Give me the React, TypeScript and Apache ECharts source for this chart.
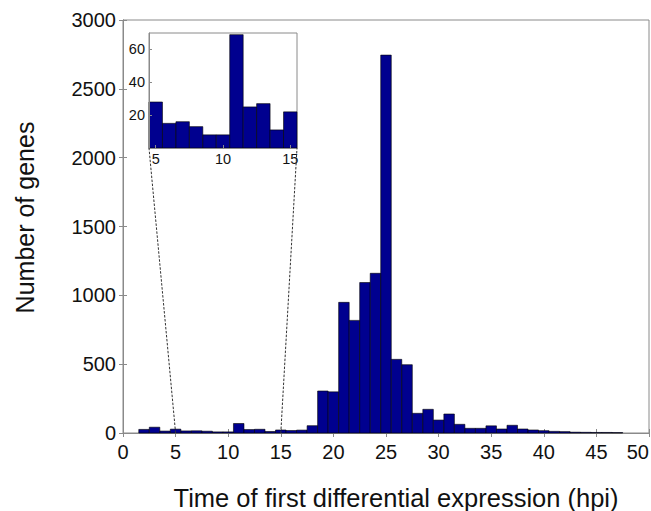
import React, { useEffect, useRef } from "react";
import * as echarts from "echarts";

// Histogram bins (hpi, bin centres) and number of genes per bin
const bins = [1, 2, 3, 4, 5, 6, 7, 8, 9, 10, 11, 12, 13, 14, 15, 16, 17, 18, 19, 20, 21, 22, 23, 24, 25, 26, 27, 28, 29, 30, 31, 32, 33, 34, 35, 36, 37, 38, 39, 40, 41, 42, 43, 44, 45, 46, 47, 48];
const counts = [0, 26, 42, 14, 28, 15, 16, 13, 8, 8, 69, 25, 27, 11, 22, 18, 21, 53, 305, 299, 949, 818, 1093, 1160, 2745, 535, 496, 143, 172, 94, 138, 63, 34, 34, 52, 29, 56, 29, 22, 17, 12, 10, 6, 5, 4, 4, 3, 0];

// Inset zoom range (hpi)
const insetFrom = 5;
const insetTo = 15;
const insetXTicks = [5, 10, 15];
const insetYTicks = [20, 40, 60];

const mainData = bins.map((b, i) => [b, counts[i]]);
const insetData = mainData.filter((d) => d[0] >= insetFrom && d[0] <= insetTo);

const BAR_FILL = "#00008F";
const FRAME = "#8a8a8a";
const TEXT = "#111";
const FONT = "Liberation Sans";

function renderHist(params: any, api: any) {
  const x = api.value(0);
  const y = api.value(1);
  if (!y) return null;
  const p0 = api.coord([x - 0.5, y]);
  const p1 = api.coord([x + 0.5, 0]);
  const cs = params.coordSys;
  const shape = echarts.graphic.clipRectByRect(
    { x: p0[0], y: p0[1], width: p1[0] - p0[0], height: p1[1] - p0[1] },
    { x: cs.x, y: cs.y, width: cs.width, height: cs.height }
  );
  if (!shape) return null;
  return {
    type: "rect",
    shape,
    style: { fill: BAR_FILL, stroke: "#000", lineWidth: 0.6 },
  };
}

const plain = (v: number) => String(v);

export default function App() {
  const ref = useRef<HTMLDivElement>(null);
  useEffect(() => {
    if (!ref.current) return;
    const chart = echarts.init(ref.current, null, { renderer: "svg" });
    const tickStyle = { show: true, inside: true, length: 4, lineStyle: { color: FRAME } };
    const option: any = {
      animation: false,
      backgroundColor: "#fff",
      textStyle: { fontFamily: FONT },
      grid: [
        { left: 123, top: 20, right: 2, bottom: 78, show: true, borderColor: FRAME, borderWidth: 1, backgroundColor: "#fff", z: 0, outerBoundsMode: "none", containLabel: false },
        { left: 149, top: 33, width: 148, height: 115, show: true, borderColor: FRAME, borderWidth: 1, backgroundColor: "#fff", z: 5, outerBoundsMode: "none", containLabel: false },
      ],
      xAxis: [
        {
          type: "value", gridIndex: 0, min: 0, max: 50, interval: 5,
          name: "Time of first differential expression (hpi)", nameLocation: "middle", nameGap: 52,
          nameTextStyle: { fontSize: 25.5, color: TEXT, fontFamily: FONT, padding: [0, 0, 0, 20] },
          axisLine: { lineStyle: { color: FRAME } }, axisTick: tickStyle,
          axisLabel: { fontSize: 20, color: TEXT, margin: 9, fontFamily: FONT, formatter: plain, alignMaxLabel: "right" },
          splitLine: { show: false },
        },
        {
          type: "value", gridIndex: 0, position: "top", min: 0, max: 50, interval: 5,
          axisLine: { lineStyle: { color: FRAME } }, axisTick: tickStyle,
          axisLabel: { show: false }, splitLine: { show: false },
        },
        {
          type: "value", gridIndex: 1, min: insetFrom - 0.5, max: insetTo + 0.5,
          axisLine: { lineStyle: { color: FRAME } },
          axisTick: { ...tickStyle, length: 3, customValues: insetXTicks },
          axisLabel: { fontSize: 14.5, color: TEXT, margin: 3, fontFamily: FONT, customValues: insetXTicks, formatter: plain },
          splitLine: { show: false }, z: 6,
        },
      ],
      yAxis: [
        {
          type: "value", gridIndex: 0, min: 0, max: 3000, interval: 500,
          name: "Number of genes", nameLocation: "middle", nameGap: 86,
          nameTextStyle: { fontSize: 25, color: TEXT, fontFamily: FONT, padding: [0, 0, 0, 18] },
          axisLine: { show: true, lineStyle: { color: FRAME } }, axisTick: tickStyle,
          axisLabel: { fontSize: 20, color: TEXT, margin: 7, fontFamily: FONT, formatter: plain },
          splitLine: { show: false },
        },
        {
          type: "value", gridIndex: 0, position: "right", min: 0, max: 3000, interval: 500,
          axisLine: { show: true, lineStyle: { color: FRAME } }, axisTick: tickStyle,
          axisLabel: { show: false }, splitLine: { show: false },
        },
        {
          type: "value", gridIndex: 1, min: 0, max: 70,
          axisLine: { show: true, lineStyle: { color: FRAME } },
          axisTick: { ...tickStyle, length: 3, customValues: insetYTicks },
          axisLabel: { fontSize: 14.5, color: TEXT, margin: 4, fontFamily: FONT, customValues: insetYTicks, formatter: plain },
          splitLine: { show: false }, z: 6,
        },
      ],
      series: [
        { type: "custom", xAxisIndex: 0, yAxisIndex: 0, data: mainData, renderItem: renderHist, z: 2 },
        { type: "custom", xAxisIndex: 2, yAxisIndex: 2, data: insetData, renderItem: renderHist, z: 6 },
      ],
    };
    chart.setOption(option);

    const a0 = chart.convertToPixel({ xAxisIndex: 0, yAxisIndex: 0 }, [insetFrom, 0]) as number[];
    const a1 = chart.convertToPixel({ xAxisIndex: 0, yAxisIndex: 0 }, [insetTo, 0]) as number[];
    const b0 = chart.convertToPixel({ xAxisIndex: 2, yAxisIndex: 2 }, [insetFrom - 0.5, 0]) as number[];
    const b1 = chart.convertToPixel({ xAxisIndex: 2, yAxisIndex: 2 }, [insetTo + 0.5, 0]) as number[];
    const dash = { stroke: "#333", lineWidth: 1, lineDash: [2.5, 1.5] };
    chart.setOption({
      graphic: [
        { type: "line", z: 10, shape: { x1: a0[0], y1: a0[1], x2: b0[0], y2: b0[1] }, style: dash },
        { type: "line", z: 10, shape: { x1: a1[0], y1: a1[1], x2: b1[0], y2: b1[1] }, style: dash },
      ],
    });
    return () => chart.dispose();
  }, []);
  return <div ref={ref} style={{ position: "fixed", left: 0, top: 0, width: 651, height: 511 }} />;
}
